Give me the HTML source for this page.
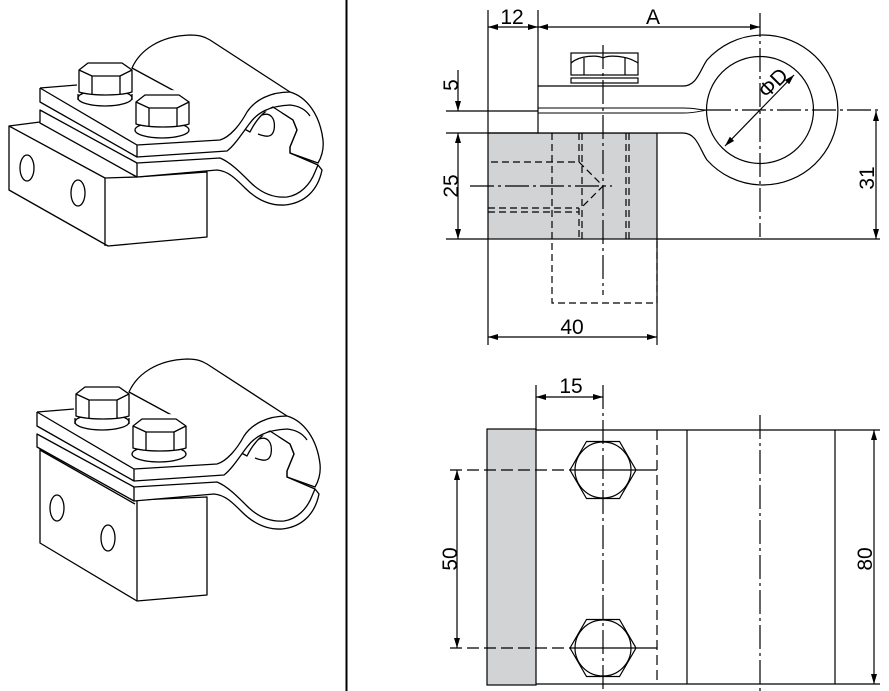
<!DOCTYPE html>
<html><head><meta charset="utf-8"><style>
html,body{margin:0;padding:0;background:#fff;}
svg{display:block;}
text{font-family:"Liberation Sans",Arial,sans-serif;font-size:21px;fill:#000;}
</style></head><body>
<svg width="889" height="691" viewBox="0 0 889 691" xmlns="http://www.w3.org/2000/svg">
<defs>
<marker id="a" viewBox="0 0 10 6" refX="10" refY="3" markerWidth="10" markerHeight="6" orient="auto-start-reverse" markerUnits="userSpaceOnUse"><path d="M0,0 L10,3 L0,6 z" fill="#000"/></marker>
<g id="iso" fill="#fff" stroke="#000" stroke-width="1.3" stroke-linejoin="round">
  <path d="M132,68 C140,50 160,36 190,35 C200,35 205,37 210,40 L290,92 C307,97 320,115 323,140 C324,150 321,158 318,163 L290,153 L290,147 L297,130 L293,120 L273,107 C262,112 255,122 250,132 Z"/>
  <path d="M40,110 L137,163 L220,158 C230,162 240,172 250,182 C262,194 275,198 287,197 C300,195 310,185 315,172 L318,165 L322,170 C318,190 305,203 285,205 C268,206 255,198 245,188 C235,178 228,171 217,170 L137,177 L40,123 Z"/>
  <path d="M137,163 L137,177"/>
  <path d="M40,88 L77,85 L137,145 Z" stroke="none"/>
  <path d="M40,88 L77,85 M40,88 L137,145 L220,140 C230,137 240,125 247,112 C255,100 270,92 290,92 M40,88 L40,102 L137,157 L227,151 C235,145 243,132 250,123 C258,112 270,106 290,105 C300,106 306,110 310,116 M137,145 L137,157"/>
  <path d="M273,107 L293,120 L297,130 L290,147 L290,153 L318,165" fill="none"/>
  <path d="M262,115 C270,112 276,118 274,130 C272,138 266,137 258,134" fill="none"/>
  <ellipse cx="105" cy="98" rx="27" ry="8"/>
  <path d="M78,94 L78,100 M132,94 L132,100" fill="none"/>
  <path d="M79,70 L88,63 L122,63 L132,70 L132,92 C120,96 92,96 79,92 Z"/>
  <path d="M79,70 L92,76 L120,76 L132,70 M92,76 L92,94 M120,76 L120,94" fill="none"/>
  <ellipse cx="162" cy="130" rx="27" ry="8"/>
  <path d="M136,102 L145,95 L179,95 L189,102 L189,124 C177,128 149,128 136,124 Z"/>
  <path d="M136,102 L149,108 L177,108 L189,102 M149,108 L149,126 M177,108 L177,126" fill="none"/>
</g>
</defs>

<line x1="346.5" y1="0" x2="346.5" y2="691" stroke="#000" stroke-width="2"/>

<g fill="#fff" stroke="#000" stroke-width="1.3" stroke-linejoin="round">
  <path d="M9,126 L40,122 L137,177 L207,172 L207,237 L108,246 L9,190 Z"/>
  <path d="M9,126 L105,178 L105,246 M105,178 L137,177" fill="none"/>
  <ellipse cx="27" cy="168" rx="7" ry="13"/>
  <ellipse cx="78" cy="193" rx="7" ry="13"/>
</g>
<use href="#iso"/>

<g fill="#fff" stroke="#000" stroke-width="1.3" stroke-linejoin="round">
  <path d="M40,447 L137,500 L207,497 L207,595 L137,601 L40,543 Z"/>
  <path d="M137,500 L137,601 M40,450 L135,504" fill="none"/>
  <ellipse cx="57" cy="508" rx="7" ry="13"/>
  <ellipse cx="108" cy="538" rx="7" ry="13"/>
</g>
<g transform="translate(-3,324)"><use href="#iso"/></g>

<g stroke="#000" stroke-width="1.2" fill="none">
  <rect x="488" y="133" width="169" height="106" fill="#d2d3d5"/>
  <path d="M538,133 L538,86 L683,86 C697,86 700,70 707,60 A75,75 0 1 1 707,160 C700,150 697,133 683,133 Z" fill="#fff"/>
  <path d="M538,108 L683,108 C695,108 700,110 707,110 M538,113 L683,113 C695,113 700,111 707,110" stroke-width="1"/>
  <circle cx="760" cy="110" r="53.5" fill="#fff"/>
  <rect x="571" y="53" width="67" height="22" fill="#fff"/>
  <path d="M571,63 C580,55 598,55 603,58 C608,55 626,55 638,63 M584,58 L584,75 M625,58 L625,75"/>
  <rect x="571" y="78" width="67" height="5"/>
  <g stroke-dasharray="7,4">
    <path d="M552,133 L552,303 L657,303 L657,239"/>
    <path d="M579,133 L579,162 L488,162 M582,133 L582,239 M626,133 L626,239 M629,133 L629,239"/>
    <path d="M488,208 L579,208 M488,212 L579,212 M579,208 L579,239 M579,162 L603,186 L581,208"/>
  </g>
  <g stroke-dasharray="24,4,3,4">
    <path d="M603,45 L603,295 M470,186 L612,186 M760,13 L760,237 M707,110 L880,110"/>
  </g>
  <path d="M446,111 L538,111"/>
  <path d="M488,10 L488,133 M538,10 L538,86 M446,133 L538,133 M657,239 L880,239 M446,239 L488,239 M488,239 L488,345 M657,239 L657,345"/>
  <path d="M488,27 L538,27" marker-start="url(#a)" marker-end="url(#a)"/>
  <path d="M538,27 L760,27" marker-start="url(#a)" marker-end="url(#a)"/>
  <path d="M458,70 L458,111" marker-end="url(#a)"/>
  <path d="M458,133 L458,239" marker-start="url(#a)" marker-end="url(#a)"/>
  <path d="M876,111 L876,239" marker-start="url(#a)" marker-end="url(#a)"/>
  <path d="M488,337 L657,337" marker-start="url(#a)" marker-end="url(#a)"/>
  <path d="M725,146 L794,75" marker-start="url(#a)" marker-end="url(#a)"/>
</g>
<text x="512" y="24" text-anchor="middle">12</text>
<text x="653" y="24" text-anchor="middle">A</text>
<text x="572" y="334" text-anchor="middle">40</text>
<text transform="translate(458,85) rotate(-90)" text-anchor="middle">5</text>
<text transform="translate(458,186) rotate(-90)" text-anchor="middle">25</text>
<text transform="translate(874,178) rotate(-90)" text-anchor="middle">31</text>
<text transform="translate(778,88) rotate(-45)" text-anchor="middle">ΦD</text>

<g stroke="#000" stroke-width="1.2" fill="none">
  <rect x="487" y="429" width="49" height="256" fill="#d2d3d5"/>
  <path d="M536,430 L835,430 M536,684 L835,684 M687,430 L687,684 M835,430 L835,684 M829,430 L880,430 M835,684 L880,684"/>
  <path d="M657,430 L657,684" stroke-dasharray="10,5"/>
  <path d="M760,415 L760,691" stroke-dasharray="24,4,3,4"/>
  <path d="M536,385 L536,430"/>
  <path d="M536,397 L603,397" marker-start="url(#a)" marker-end="url(#a)"/>
  <g fill="#fff">
    <polygon points="570,470 586.5,441.5 619.5,441.5 636,470 619.5,498.5 586.5,498.5"/>
    <circle cx="603" cy="470" r="28"/>
    <polygon points="570,648 586.5,619.5 619.5,619.5 636,648 619.5,676.5 586.5,676.5"/>
    <circle cx="603" cy="648" r="28"/>
  </g>
  <path d="M603,385 L603,691" stroke-dasharray="24,4,3,4"/>
  <path d="M450,470 L570,470 M450,648 L570,648" stroke-dasharray="12,5"/>
  <path d="M570,470 L657,470 M570,648 L657,648"/>
  <path d="M457,470 L457,648" marker-start="url(#a)" marker-end="url(#a)"/>
  <path d="M874,430 L874,684" marker-start="url(#a)" marker-end="url(#a)"/>
</g>
<text x="571" y="393" text-anchor="middle">15</text>
<text transform="translate(457,559) rotate(-90)" text-anchor="middle">50</text>
<text transform="translate(872,559) rotate(-90)" text-anchor="middle">80</text>
</svg>
</body></html>
